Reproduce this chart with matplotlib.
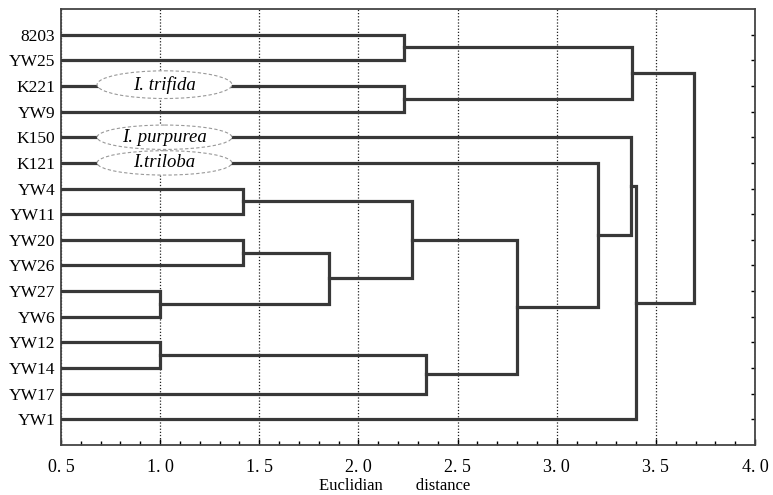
import matplotlib
matplotlib.use("Agg")
import matplotlib.pyplot as plt
from matplotlib.patches import Ellipse
from matplotlib.ticker import MultipleLocator

# leaves, top to bottom
leaves = ["8203", "YW25", "K221", "YW9", "K150", "K121", "YW4", "YW11",
          "YW20", "YW26", "YW27", "YW6", "YW12", "YW14", "YW17", "YW1"]

# merges: (left member, right member, distance); "cN" is the N-th merge
merges = [
    ("8203", "YW25", 2.23),   # c0
    ("K221", "YW9", 2.23),    # c1
    ("c0", "c1", 3.38),       # c2
    ("YW4", "YW11", 1.42),    # c3
    ("YW20", "YW26", 1.42),   # c4
    ("YW27", "YW6", 1.00),    # c5
    ("YW12", "YW14", 1.00),   # c6
    ("c4", "c5", 1.85),       # c7
    ("c3", "c7", 2.27),       # c8
    ("c6", "YW17", 2.34),     # c9
    ("c8", "c9", 2.80),       # c10
    ("K121", "c10", 3.21),    # c11
    ("K150", "c11", 3.375),   # c12
    ("c12", "YW1", 3.40),     # c13
    ("c2", "c13", 3.69),      # c14
]

species = ["I. trifida", "I. purpurea", "I.triloba"]
species_at = [1.95, 4.0, 5.0]   # row of each label (0 = top leaf)

xticks = [0.5, 1.0, 1.5, 2.0, 2.5, 3.0, 3.5, 4.0]
xticklabels = ["0. 5", "1. 0", "1. 5", "2. 0", "2. 5", "3. 0", "3. 5", "4. 0"]

line_col = "#383838"
serif = ["Liberation Serif", "DejaVu Serif"]

fig = plt.figure(figsize=(7.73, 4.95), dpi=100)
ax = fig.add_axes([0.0789, 0.101, 0.8978, 0.8808])

# node positions: (x = height, y = row)
pos = {name: (0.5, i) for i, name in enumerate(leaves)}
for k, (a, b, h) in enumerate(merges):
    xa, ya = pos[a]
    xb, yb = pos[b]
    ax.plot([xa, h, h, xb], [ya, ya, yb, yb], color=line_col, lw=2.3,
            solid_joinstyle="miter", zorder=3)
    pos["c%d" % k] = (h, (ya + yb) / 2)

for txt, y in zip(species, species_at):
    ax.add_patch(Ellipse((1.022, y), 0.68, 1.08 if txt == "I. trifida" else 0.95,
                         facecolor="white", edgecolor="#999999", lw=0.8,
                         ls=(0, (3, 2)), zorder=4))
    ax.text(1.022, y, txt, ha="center", va="center", style="italic",
            family=serif, fontsize=13.5, zorder=5)

ax.set_xlim(0.5, 4.0)
ax.set_ylim(len(leaves), -1)
ax.set_xticks(xticks)
ax.set_xticklabels(xticklabels, family=serif, fontsize=13)
ax.xaxis.set_minor_locator(MultipleLocator(0.1))
ax.set_yticks(range(len(leaves)))
ax.set_yticklabels(leaves, family=serif, fontsize=12.5)
ax.tick_params(axis="both", which="both", direction="in", right=True, top=False,
               length=3, width=1)
ax.tick_params(axis="x", which="major", length=4, pad=10)
ax.tick_params(axis="y", pad=4)
ax.grid(axis="x", which="major", color="#222222", ls=(0, (1, 1.5)), lw=0.9, zorder=1)
for s in ax.spines.values():
    s.set_linewidth(1.3)
    s.set_color("#444444")

fig.text(0.511, 0.018, "Euclidian        distance", ha="center", va="center",
         family=serif, fontsize=12)

fig.savefig("out.png", dpi=100)
